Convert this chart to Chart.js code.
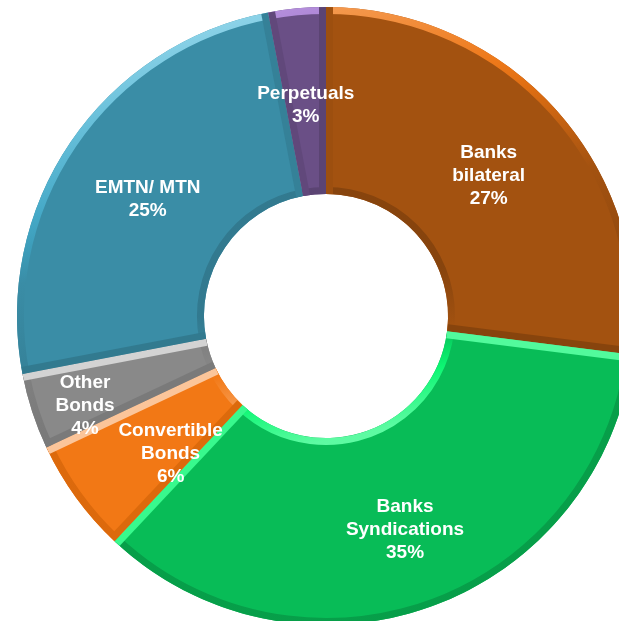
<!DOCTYPE html>
<html lang="en">
<head>
    <meta charset="UTF-8">
    <title>Funding Mix</title>
    <script src="https://cdn.jsdelivr.net/npm/chart.js"></script>
    <style>
        html, body { margin: 0; padding: 0; background: #fff; overflow: hidden; width: 619px; height: 621px; }
        #wrap { position: absolute; left: 17px; top: 7px; width: 618px; height: 618px; }
    </style>
</head>
<body>
<div id="wrap"><canvas id="mixChart"></canvas></div>

<script>
    const categories = ['Banks bilateral', 'Banks Syndications', 'Convertible Bonds', 'Other Bonds', 'EMTN/MTN', 'Perpetuals'];
    const labelLines = [['Banks', 'bilateral'], ['Banks', 'Syndications'], ['Convertible', 'Bonds'], ['Other', 'Bonds'], ['EMTN/ MTN'], ['Perpetuals']];
    const shares = [27, 35, 6, 4, 25, 3];
    const colors = ['#a35210', '#08bc57', '#f27815', '#898989', '#3a8da6', '#6a4f86'];

    // small nudges so the labels sit where they read best
    const labelNudge = [[1, 2], [6, 11], [19, 11], [-36, 23], [0, 4], [0, 4]];

    function hexToHsl(h) {
        const n = parseInt(h.slice(1), 16);
        const r = ((n >> 16) & 255) / 255, g = ((n >> 8) & 255) / 255, b = (n & 255) / 255;
        const max = Math.max(r, g, b), min = Math.min(r, g, b);
        const l = (max + min) / 2;
        let hh = 0, s = 0;
        if (max !== min) {
            const d = max - min;
            s = l > 0.5 ? d / (2 - max - min) : d / (max + min);
            if (max === r) hh = (g - b) / d + (g < b ? 6 : 0);
            else if (max === g) hh = (b - r) / d + 2;
            else hh = (r - g) / d + 4;
            hh *= 60;
        }
        return [hh, s * 100, l * 100];
    }
    // dot in [-1, 1]: how much an edge faces the light
    function tone(hex, dot) {
        const [h, s, l] = hexToHsl(hex);
        if (dot > 0.3) {
            const t = (dot - 0.3) / 0.7;
            const s2 = s > 0 ? s + (100 - s) * 0.35 * t : 0;
            return 'hsl(' + h.toFixed(1) + ',' + s2.toFixed(1) + '%,' + Math.min(90, l + 29 * t).toFixed(1) + '%)';
        }
        const t = Math.min(1, (0.3 - dot) / 0.5);
        return 'hsl(' + h.toFixed(1) + ',' + s.toFixed(1) + '%,' + Math.max(0, l - 6 * t).toFixed(1) + '%)';
    }

    // light falls from above
    const L = (function () { const x = -0.2, y = -0.98, m = Math.hypot(x, y); return [x / m, y / m]; })();
    const bevel = 7;

    const bevelPlugin = {
        id: 'bevel',
        afterDatasetDraw(chart) {
            const ctx = chart.ctx;
            chart.getDatasetMeta(0).data.forEach((el, i) => {
                const {x, y, startAngle, endAngle, innerRadius, outerRadius} = el.getProps(['x', 'y', 'startAngle', 'endAngle', 'innerRadius', 'outerRadius'], true);
                const base = colors[i];
                ctx.save();
                ctx.beginPath();
                ctx.arc(x, y, outerRadius, startAngle, endAngle);
                ctx.arc(x, y, innerRadius, endAngle, startAngle, true);
                ctx.closePath();
                ctx.clip();
                ctx.lineWidth = bevel * 2;

                // outer rim
                let g = ctx.createLinearGradient(x - L[0] * outerRadius, y - L[1] * outerRadius, x + L[0] * outerRadius, y + L[1] * outerRadius);
                for (let k = 0; k <= 20; k++) g.addColorStop(k / 20, tone(base, k / 10 - 1));
                ctx.strokeStyle = g;
                ctx.beginPath();
                ctx.arc(x, y, outerRadius, startAngle, endAngle);
                ctx.stroke();

                // inner rim faces the centre
                g = ctx.createLinearGradient(x - L[0] * innerRadius, y - L[1] * innerRadius, x + L[0] * innerRadius, y + L[1] * innerRadius);
                for (let k = 0; k <= 20; k++) g.addColorStop(k / 20, tone(base, 1 - k / 10));
                ctx.strokeStyle = g;
                ctx.beginPath();
                ctx.arc(x, y, innerRadius, startAngle, endAngle);
                ctx.stroke();

                // radial edges
                [[startAngle, -1], [endAngle, 1]].forEach(([a, s]) => {
                    const nx = -Math.sin(a) * s, ny = Math.cos(a) * s;
                    ctx.strokeStyle = tone(base, nx * L[0] + ny * L[1]);
                    ctx.beginPath();
                    ctx.moveTo(x + Math.cos(a) * innerRadius, y + Math.sin(a) * innerRadius);
                    ctx.lineTo(x + Math.cos(a) * outerRadius, y + Math.sin(a) * outerRadius);
                    ctx.stroke();
                });
                ctx.restore();
            });
        }
    };

    const labelPlugin = {
        id: 'sliceLabels',
        afterDraw(chart) {
            const ctx = chart.ctx;
            ctx.save();
            ctx.fillStyle = '#fff';
            ctx.font = 'bold 19px "Liberation Sans", Arial, sans-serif';
            ctx.textAlign = 'center';
            ctx.textBaseline = 'middle';
            chart.getDatasetMeta(0).data.forEach((el, i) => {
                const {x, y, startAngle, endAngle, innerRadius, outerRadius} = el.getProps(['x', 'y', 'startAngle', 'endAngle', 'innerRadius', 'outerRadius'], true);
                const a = (startAngle + endAngle) / 2;
                const r = (innerRadius + outerRadius) / 2;
                const cx = x + Math.cos(a) * r + labelNudge[i][0];
                const cy = y + Math.sin(a) * r + labelNudge[i][1];
                const lines = labelLines[i].concat([shares[i] + '%']);
                const lh = 23;
                lines.forEach((t, k) => {
                    ctx.fillText(t, cx, cy + (k - (lines.length - 1) / 2) * lh);
                });
            });
            ctx.restore();
        }
    };

    new Chart(document.getElementById('mixChart'), {
        type: 'doughnut',
        data: {
            labels: categories,
            datasets: [{
                data: shares,
                backgroundColor: colors,
                borderWidth: 0,
                hoverOffset: 0
            }]
        },
        options: {
            responsive: true,
            maintainAspectRatio: false,
            animation: false,
            cutout: '39.5%',
            layout: { padding: 0 },
            plugins: { legend: { display: false }, tooltip: { enabled: false } }
        },
        plugins: [bevelPlugin, labelPlugin]
    });
</script>
</body>
</html>
